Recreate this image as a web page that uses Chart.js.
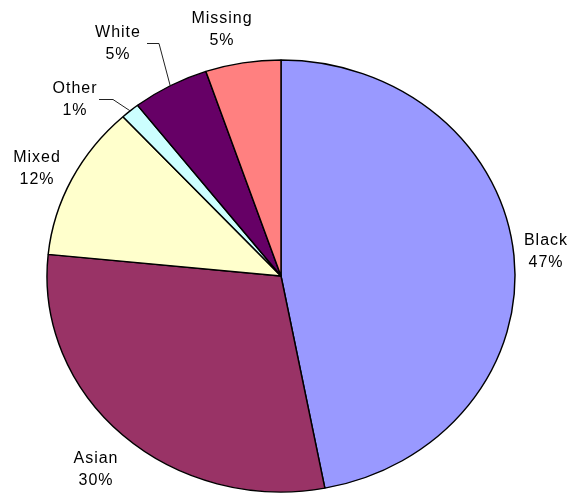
<!DOCTYPE html>
<html lang="en">
<head>
<meta charset="UTF-8">
<title>Pupils by ethnic group</title>
<script src="https://cdn.jsdelivr.net/npm/chart.js"></script>
<style>
  html, body { margin: 0; padding: 0; background: #fff; }
  canvas { display: block; }
</style>
</head>
<body>
<canvas id="pieChart" width="571" height="493"></canvas>
<script>
// share of each group, in percent
const groups = ['Black', 'Asian', 'Mixed', 'Other', 'White', 'Missing'];
const shares = [47.0, 29.6, 11.6, 1.3, 5.3, 5.2];
const sliceColours = ['#9999FF', '#993366', '#FFFFCC', '#CCFFFF', '#660066', '#FF8080'];

// the pie is a little squashed vertically, so it gets two radii
const pieBox = { cx: 281, cy: 276, rx: 234, ry: 216 };

// label centre + baseline of the first line; small slices get a leader line
const labelSpots = {
    Black:   { x: 546, y: 245 },
    Asian:   { x: 96,  y: 463 },
    Mixed:   { x: 37,  y: 162 },
    Other:   { x: 75,  y: 93,  leader: [[99, 99.5], [113, 99.5]] },
    White:   { x: 118, y: 37,  leader: [[147, 43.5], [159, 43.5]] },
    Missing: { x: 222, y: 23 }
};
const lineStep = 22;

// stretch the round Chart.js pie into the ellipse above
const squashPie = {
    id: 'squashPie',
    beforeDatasetsDraw(chart) {
        const arc = chart.getDatasetMeta(0).data[0];
        const ctx = chart.ctx;
        ctx.save();
        ctx.translate(pieBox.cx, pieBox.cy);
        ctx.scale(pieBox.rx / arc.outerRadius, pieBox.ry / arc.outerRadius);
        ctx.translate(-arc.x, -arc.y);
    },
    afterDatasetsDraw(chart) {
        chart.ctx.restore();
    }
};

// "Name" over "NN%" outside each slice
const sliceLabels = {
    id: 'sliceLabels',
    afterDraw(chart) {
        const ctx = chart.ctx;
        const meta = chart.getDatasetMeta(0);
        const total = shares.reduce((a, b) => a + b, 0);
        ctx.save();
        ctx.font = '16px "Liberation Sans", Arial, sans-serif';
        ctx.letterSpacing = '1px';
        ctx.fillStyle = '#000';
        ctx.textAlign = 'center';
        ctx.textBaseline = 'alphabetic';
        groups.forEach((name, i) => {
            const spot = labelSpots[name];
            const pct = Math.round(shares[i] / total * 100) + '%';
            ctx.fillText(name, spot.x, spot.y);
            ctx.fillText(pct, spot.x, spot.y + lineStep);
            if (spot.leader) {
                const arc = meta.data[i];
                const mid = (arc.startAngle + arc.endAngle) / 2;
                const ex = pieBox.cx + pieBox.rx * Math.cos(mid);
                const ey = pieBox.cy + pieBox.ry * Math.sin(mid);
                ctx.beginPath();
                ctx.strokeStyle = '#222';
                ctx.lineWidth = 1;
                ctx.moveTo(spot.leader[0][0], spot.leader[0][1]);
                ctx.lineTo(spot.leader[1][0], spot.leader[1][1]);
                ctx.lineTo(ex, ey);
                ctx.stroke();
            }
        });
        ctx.restore();
    }
};

new Chart(document.getElementById('pieChart'), {
    type: 'pie',
    data: {
        labels: groups,
        datasets: [{
            data: shares,
            backgroundColor: sliceColours,
            borderColor: '#000',
            borderWidth: 1.5
        }]
    },
    options: {
        responsive: false,
        animation: false,
        events: [],
        layout: { padding: 4 },
        plugins: {
            legend: { display: false },
            tooltip: { enabled: false }
        }
    },
    plugins: [squashPie, sliceLabels]
});
</script>
</body>
</html>
